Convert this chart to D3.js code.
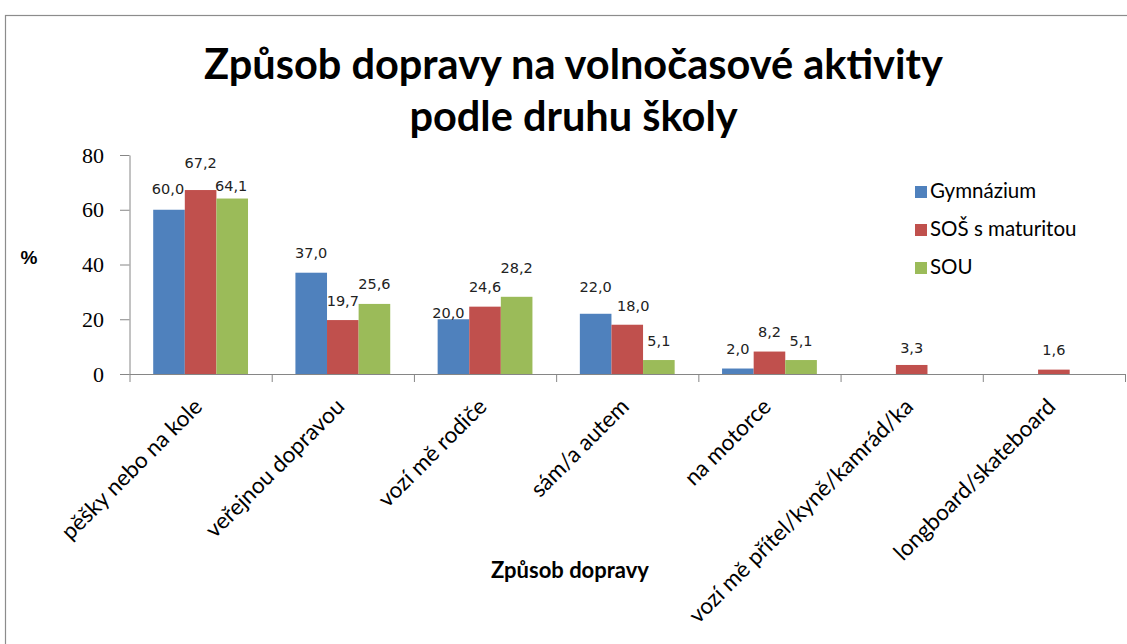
<!DOCTYPE html>
<html>
<head>
<meta charset="utf-8">
<script src="https://cdn.jsdelivr.net/npm/d3@7"></script>
<style>
  html, body { margin: 0; padding: 0; background: #fff; }
  svg { display: block; }
</style>
</head>
<body>
<svg id="chart" width="1127" height="644"></svg>
<script>
// Transport mode to leisure activities, by type of school (%)
const categories = [
  "pěšky nebo na kole",
  "veřejnou dopravou",
  "vozí mě rodiče",
  "sám/a autem",
  "na motorce",
  "vozí mě přítel/kyně/kamrád/ka",
  "longboard/skateboard"
];
const seriesNames = ["Gymnázium", "SOŠ s maturitou", "SOU"];
const gymnazium = [60.0, 37.0, 20.0, 22.0, 2.0, null, null];
const sosMaturita = [67.2, 19.7, 24.6, 18.0, 8.2, 3.3, 1.6];
const sou = [64.1, 25.6, 28.2, 5.1, 5.1, null, null];
const yTicks = [0, 20, 40, 60, 80];

const titleLines = ["Způsob dopravy na volnočasové aktivity", "podle druhu školy"];
const xTitle = "Způsob dopravy";
const yTitle = "%";

const colors = ["#4F81BD", "#C0504D", "#9BBB59"];
const seriesValues = [gymnazium, sosMaturita, sou];

// Hand-placed data labels: small offsets (px) away from the default spot
const labelNudge = {
  "0|0": [-1, -1], "0|1": [0, -8], "0|2": [-1, 7],
  "2|0": [-5, 13], "2|2": [0, -9],
  "3|0": [0, -7], "3|1": [6, 1],
  "5|1": [0, 3]
};

const svg = d3.select("#chart");
const axisColor = "#868686";

// chart frame
svg.append("rect")
  .attr("x", 5.5).attr("y", 15.5)
  .attr("width", 1140).attr("height", 660)
  .attr("fill", "#fff").attr("stroke", "#8c8c8c").attr("stroke-width", 1.2);

const x = d3.scaleBand().domain(categories).range([129.5, 1125]).padding(0);
const inner = d3.scaleBand().domain(seriesNames).range([0, x.bandwidth()])
  .paddingInner(0).paddingOuter(0.75);
const y = d3.scaleLinear().domain([0, 80]).range([374, 155]);

// title
svg.append("g").selectAll("text").data(titleLines).join("text")
  .attr("x", 573.5)
  .attr("y", (d, i) => 79 + i * 52)
  .attr("text-anchor", "middle")
  .attr("font-family", "Lato, 'Open Sans', sans-serif")
  .attr("font-weight", "bold")
  .attr("font-size", 41.5)
  .attr("fill", "#000")
  .text(d => d);

// bars
const flat = [];
seriesValues.forEach((vals, s) => vals.forEach((v, c) => {
  if (v !== null) flat.push({ s, c, v });
}));

svg.append("g").selectAll("rect").data(flat).join("rect")
  .attr("x", d => x(categories[d.c]) + inner(seriesNames[d.s]))
  .attr("y", d => y(d.v))
  .attr("width", inner.bandwidth())
  .attr("height", d => y(0) - y(d.v))
  .attr("fill", d => colors[d.s]);

// data labels
const fmt = v => v.toFixed(1).replace(".", ",");
svg.append("g").selectAll("text").data(flat).join("text")
  .attr("x", d => {
    const n = labelNudge[d.c + "|" + d.s] || [0, 0];
    return x(categories[d.c]) + inner(seriesNames[d.s]) + inner.bandwidth() / 2 + n[0];
  })
  .attr("y", d => {
    const n = labelNudge[d.c + "|" + d.s] || [0, 0];
    return y(d.v) - 14.5 + n[1];
  })
  .attr("text-anchor", "middle")
  .attr("font-family", "'DejaVu Sans', sans-serif")
  .attr("font-size", 14.5)
  .attr("fill", "#222")
  .text(d => fmt(d.v));

// y axis
const yAxis = svg.append("g")
  .attr("transform", `translate(${x.range()[0]},0)`)
  .call(d3.axisLeft(y).tickValues(yTicks).tickSize(9.5).tickPadding(16).tickSizeOuter(0));
yAxis.select(".domain").attr("stroke", axisColor);
yAxis.selectAll(".tick line").attr("stroke", axisColor);
yAxis.selectAll(".tick text")
  .attr("font-family", "'Liberation Serif', serif")
  .attr("font-size", 22)
  .attr("fill", "#000");

// x axis line and category separators
const xr = x.range();
svg.append("line")
  .attr("x1", xr[0]).attr("x2", xr[1])
  .attr("y1", y(0) + 0.5).attr("y2", y(0) + 0.5)
  .attr("stroke", axisColor);
const bounds = categories.map(c => x(c)).concat([xr[1]]);
svg.append("g").selectAll("line").data(bounds).join("line")
  .attr("x1", d => d + 0.5).attr("x2", d => d + 0.5)
  .attr("y1", y(0)).attr("y2", y(0) + 8)
  .attr("stroke", axisColor);

// category labels, rotated
svg.append("g").selectAll("text").data(categories).join("text")
  .attr("transform", d => `translate(${x(d) + x.bandwidth() / 2 + 3},${y(0) + 34}) rotate(-45)`)
  .attr("text-anchor", "end")
  .attr("font-family", "Lato, 'Open Sans', sans-serif")
  .attr("font-size", 22.5)
  .attr("fill", "#000")
  .text(d => d);

// axis titles
svg.append("text")
  .attr("x", 570).attr("y", 578)
  .attr("text-anchor", "middle")
  .attr("font-family", "Lato, 'Open Sans', sans-serif")
  .attr("font-weight", "bold")
  .attr("font-size", 22)
  .attr("fill", "#000")
  .text(xTitle);

svg.append("text")
  .attr("x", 29).attr("y", 264)
  .attr("text-anchor", "middle")
  .attr("font-family", "'Liberation Sans', sans-serif")
  .attr("font-weight", "bold")
  .attr("font-size", 19)
  .attr("fill", "#000")
  .text(yTitle);

// legend
const legend = svg.append("g").attr("transform", "translate(915,182)");
const li = legend.selectAll("g").data(seriesNames).join("g")
  .attr("transform", (d, i) => `translate(0,${i * 38})`);
li.append("rect")
  .attr("x", 0).attr("y", 4).attr("width", 12).attr("height", 12)
  .attr("fill", (d, i) => colors[i]);
li.append("text")
  .attr("x", 15).attr("y", 16)
  .attr("font-family", "Lato, 'Open Sans', sans-serif")
  .attr("font-size", 20.5)
  .attr("fill", "#000")
  .text(d => d);
</script>
</body>
</html>
